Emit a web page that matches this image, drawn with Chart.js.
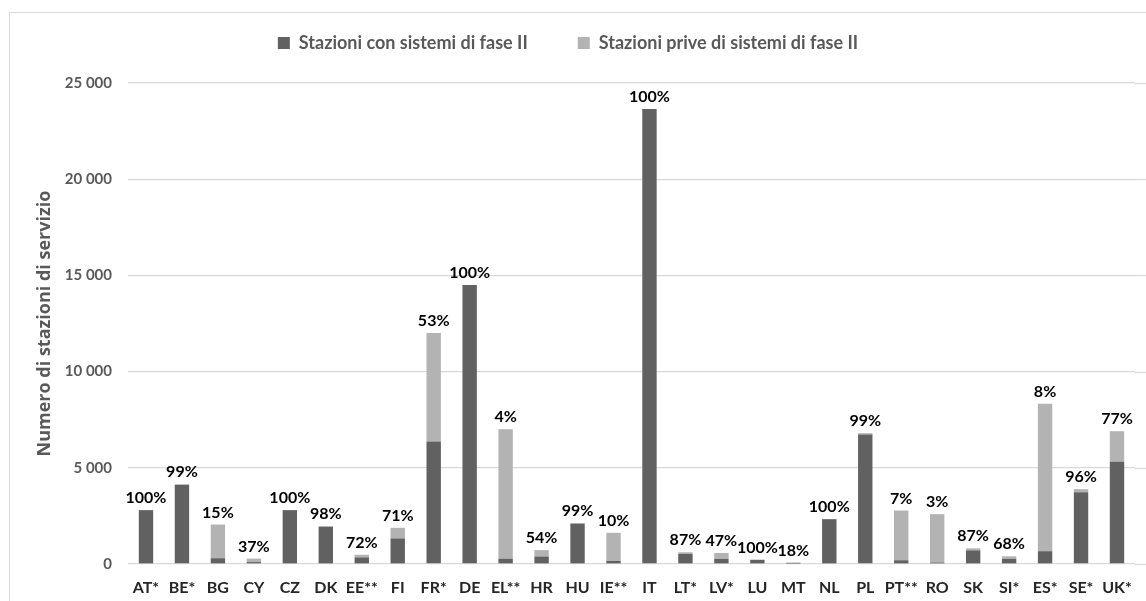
<!DOCTYPE html>
<html>
<head>
<meta charset="utf-8">
<script src="https://cdn.jsdelivr.net/npm/chart.js@4.4.1/dist/chart.umd.min.js"></script>
<style>
  html, body { margin: 0; padding: 0; background: #fff; overflow: hidden; }
  #frame { position: absolute; left: 9px; top: 12px; width: 1200px; height: 700px; border: 1px solid #d9d9d9; }
  #wrap { position: absolute; left: 0; top: 0; width: 1146px; height: 601px; }
</style>
</head>
<body>
<div id="frame"></div>
<div id="wrap"><canvas id="stazioni"></canvas></div>
<script>
// paesi, stazioni con / senza sistemi di fase II, quota percentuale
const paesi = ['AT*', 'BE*', 'BG', 'CY', 'CZ', 'DK', 'EE**', 'FI', 'FR*', 'DE', 'EL**', 'HR', 'HU', 'IE**',
    'IT', 'LT*', 'LV*', 'LU', 'MT', 'NL', 'PL', 'PT**', 'RO', 'SK', 'SI*', 'ES*', 'SE*', 'UK*'];
const conFaseII = [2800, 4100, 300, 100, 2800, 1930, 345, 1330, 6370, 14500, 280, 390, 2100, 160,
    23650, 530, 270, 220, 15, 2330, 6730, 195, 80, 710, 272, 665, 3730, 5310];
const priveFaseII = [0, 50, 1750, 180, 0, 40, 135, 550, 5630, 0, 6720, 330, 20, 1460,
    0, 80, 305, 0, 65, 0, 70, 2585, 2510, 105, 128, 7665, 160, 1590];
const quote = ['100%', '99%', '15%', '37%', '100%', '98%', '72%', '71%', '53%', '100%', '4%', '54%', '99%', '10%',
    '100%', '87%', '47%', '100%', '18%', '100%', '99%', '7%', '3%', '87%', '68%', '8%', '96%', '77%'];
const yTicks = [0, 5000, 10000, 15000, 20000, 25000];

const font = 'Lato, "Open Sans", sans-serif';

// altezza fissa della legenda, così l'area del grafico parte sotto
const legendGap = {
    id: 'legendGap',
    afterInit(chart) {
        const fit = chart.legend.fit;
        chart.legend.fit = function () {
            fit.call(this);
            this.height = 99;
        };
    }
};

// le linee della griglia arrivano fino al bordo destro
const gridToEdge = {
    id: 'gridToEdge',
    beforeDatasetsDraw(chart) {
        const ctx = chart.ctx;
        const y = chart.scales.y;
        ctx.save();
        ctx.strokeStyle = '#d9d9d9';
        ctx.lineWidth = 1.3;
        yTicks.forEach(v => {
            const py = Math.round(y.getPixelForValue(v)) + 0.5;
            ctx.beginPath();
            ctx.moveTo(chart.chartArea.right, py);
            ctx.lineTo(chart.width, py);
            ctx.stroke();
        });
        ctx.restore();
    }
};

// percentuali sopra ogni colonna
const quoteLabels = {
    id: 'quoteLabels',
    afterDatasetsDraw(chart) {
        const ctx = chart.ctx;
        const top = chart.getDatasetMeta(1).data;
        ctx.save();
        ctx.font = 'bold 16px ' + font;
        ctx.fillStyle = '#000';
        ctx.textAlign = 'center';
        ctx.textBaseline = 'bottom';
        top.forEach((bar, i) => {
            ctx.fillText(quote[i], bar.x, bar.y - 4);
        });
        ctx.restore();
    }
};

const ctx = document.getElementById('stazioni').getContext('2d');
new Chart(ctx, {
    type: 'bar',
    data: {
        labels: paesi,
        datasets: [{
            label: 'Stazioni con sistemi di fase II',
            data: conFaseII,
            backgroundColor: '#616161',
            barPercentage: 0.4,
            categoryPercentage: 1
        }, {
            label: 'Stazioni prive di sistemi di fase II',
            data: priveFaseII,
            backgroundColor: '#b3b3b3',
            barPercentage: 0.4,
            categoryPercentage: 1
        }]
    },
    options: {
        responsive: true,
        maintainAspectRatio: false,
        animation: false,
        layout: { padding: { top: -16, right: 10, bottom: 0, left: 0 } },
        plugins: {
            legend: {
                position: 'top',
                labels: {
                    boxWidth: 12,
                    boxHeight: 12,
                    padding: 50,
                    color: '#595959',
                    font: { family: font, size: 18, weight: 'bold' }
                }
            },
            tooltip: { enabled: false }
        },
        scales: {
            x: {
                stacked: true,
                grid: { display: false, drawTicks: false, tickLength: 0 },
                border: { display: false },
                afterFit(scale) {
                    scale.height = 37;
                },
                ticks: {
                    autoSkip: false,
                    maxRotation: 0,
                    padding: 14,
                    color: '#262626',
                    font: { family: font, size: 16, weight: 'bold' }
                }
            },
            y: {
                stacked: true,
                min: 0,
                max: 25000,
                afterBuildTicks(scale) {
                    scale.ticks = yTicks.map(v => ({ value: v }));
                },
                afterFit(scale) {
                    scale.width = 128;
                },
                grid: { color: '#d9d9d9', lineWidth: 1.3, drawTicks: false },
                border: { display: false },
                title: {
                    display: true,
                    text: 'Numero di stazioni di servizio',
                    color: '#595959',
                    padding: { top: 34, bottom: 0 },
                    font: { family: '"Open Sans", sans-serif', size: 18, weight: 'bold' }
                },
                ticks: {
                    padding: 16,
                    color: '#595959',
                    font: { family: font, size: 15, weight: 'bold' },
                    callback: v => String(v).replace(/\B(?=(\d{3})+(?!\d))/g, ' ')
                }
            }
        }
    },
    plugins: [legendGap, gridToEdge, quoteLabels]
});
</script>
</body>
</html>
